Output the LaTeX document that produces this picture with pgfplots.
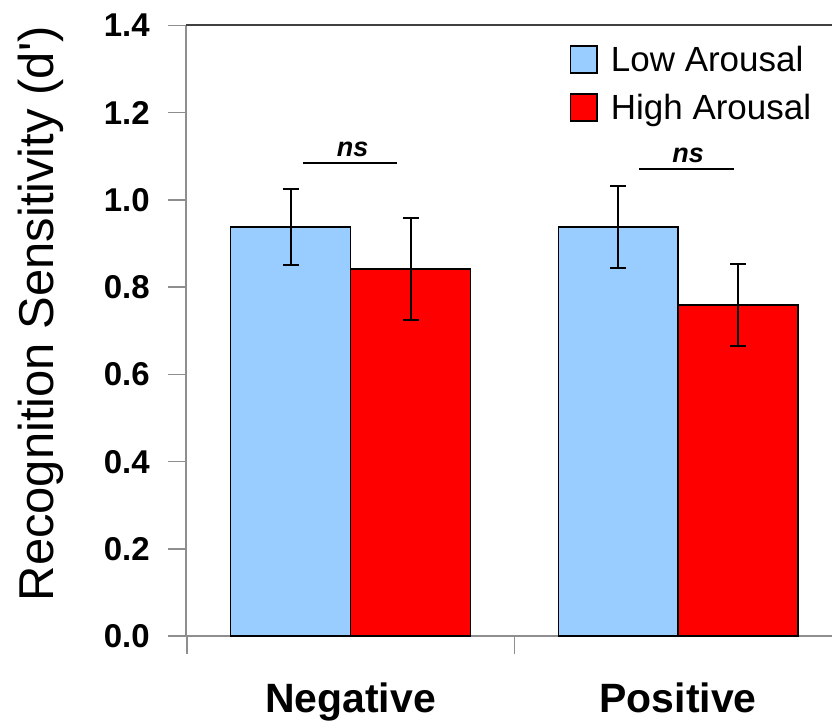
\documentclass[border=0pt]{standalone}
\usepackage{pgfplots}
\pgfplotsset{compat=1.18}
\usepackage{fontspec}
\setmainfont{Liberation Sans}
\newfontfamily\labelfont{Liberation Sans}[Ligatures=TeXOff]
\definecolor{lowblue}{HTML}{99CCFF}
\definecolor{highred}{HTML}{FF0000}
\definecolor{axgray}{HTML}{8E8E8E}
\definecolor{topgray}{HTML}{404040}
\pgfplotstableread{
x   xs      y      err
0   -0.183  0.938  0.088
1   0.817   0.938  0.094
}\lowtable
\pgfplotstableread{
x   xs      y      err
0   0.183   0.842  0.117
1   1.183   0.759  0.094
}\hightable
\begin{document}
\begin{tikzpicture}
\begin{axis}[
  scale only axis, width=647pt, height=611.5pt,
  at={(0,0)}, anchor=south west,
  xmin=-0.503, xmax=1.4695, ymin=0, ymax=1.4,
  axis x line*=bottom, axis y line*=left,
  axis line style={axgray, line width=1.5pt},
  tick align=outside,
  ytick={0,0.2,0.4,0.6,0.8,1.0,1.2,1.4},
  tick style={axgray, line width=1.5pt},
  major tick length=18pt,
  yticklabel style={font=\bfseries\fontsize{33}{40}\selectfont, inner sep=0pt, xshift=-18pt,
    /pgf/number format/.cd, fixed, fixed zerofill, precision=1, assume math mode=true},
  xtick={-0.5,0.5}, xticklabels={},
  extra x ticks={0,1}, extra x tick labels={Negative,Positive},
  extra x tick style={major tick length=0pt, tick style={draw=none},
    xticklabel style={font=\bfseries\fontsize{41}{48}\selectfont, inner sep=0pt, anchor=north, yshift=-46pt}},
  ylabel={Recognition Sensitivity (d')},
  ylabel style={font=\labelfont\fontsize{49}{56}\selectfont, at={(axis description cs:0,0.528)}, anchor=north, inner sep=0pt, yshift=168pt},
  legend style={at={(axis description cs:0.5935,0.968)}, anchor=north west, draw=none, fill=none, inner sep=0pt,
    row sep=19.5pt, font=\fontsize{35}{40}\selectfont,
    nodes={inner sep=0pt}, cells={anchor=base west},
    /tikz/every odd column/.append style={column sep=13pt}},
  clip=false,
]
\addplot[ybar, bar width=120pt, bar shift=-60pt, fill=lowblue, draw=black, line width=1.5pt,
  legend image code/.code={\draw[fill=lowblue, draw=black, line width=1.5pt] (0pt,-1pt) rectangle (27pt,26pt);}]
  table[x=x, y=y] {\lowtable};
\addlegendentry{Low Arousal}
\addplot[ybar, bar width=120pt, bar shift=60pt, fill=highred, draw=black, line width=1.5pt,
  legend image code/.code={\draw[fill=highred, draw=black, line width=1.5pt] (0pt,-1pt) rectangle (27pt,26pt);}]
  table[x=x, y=y] {\hightable};
\addlegendentry{High Arousal}
\addplot[draw=none, mark=none, forget plot,
  error bars/.cd, y dir=both, y explicit,
  error bar style={black, line width=2pt},
  error mark options={rotate=90, mark size=8pt, line width=2pt, black}]
  table[x=xs, y=y, y error=err] {\lowtable};
\addplot[draw=none, mark=none, forget plot,
  error bars/.cd, y dir=both, y explicit,
  error bar style={black, line width=2pt},
  error mark options={rotate=90, mark size=8pt, line width=2pt, black}]
  table[x=xs, y=y, y error=err] {\hightable};
\addplot[black, line width=2pt, forget plot] coordinates {(-0.146,1.085) (0.143,1.085)};
\addplot[black, line width=2pt, forget plot] coordinates {(0.881,1.071) (1.171,1.071)};
\node[font=\bfseries\itshape\fontsize{27}{30}\selectfont, anchor=base, inner sep=0pt] at (axis cs:0.006,1.099) {ns};
\node[font=\bfseries\itshape\fontsize{27}{30}\selectfont, anchor=base, inner sep=0pt] at (axis cs:1.03,1.085) {ns};
\draw[topgray, line width=2pt] (axis description cs:0,1) -- (axis description cs:1,1);
\end{axis}
\path (-186pt,-82pt) rectangle (647pt,637pt);
\end{tikzpicture}
\end{document}
